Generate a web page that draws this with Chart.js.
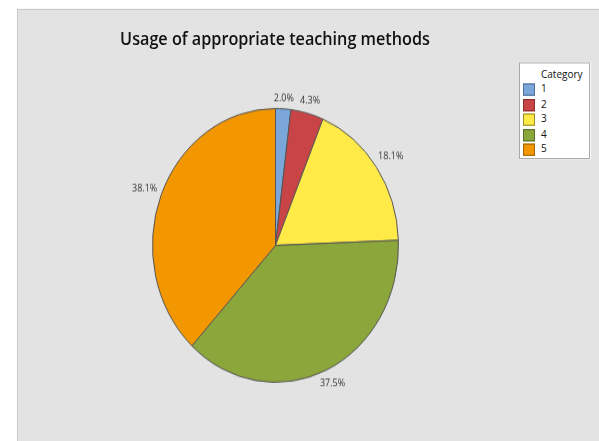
<!DOCTYPE html>
<html>
<head>
<meta charset="utf-8">
<script src="https://cdn.jsdelivr.net/npm/chart.js@4.4.0/dist/chart.umd.min.js"></script>
<style>
  html, body { margin: 0; padding: 0; background: #fff; }
  body { width: 599px; height: 441px; overflow: hidden; position: relative; }
  /* the reference is a bit stretched vertically, so the whole stage is too */
  #stage { position: absolute; left: 0; top: 0; width: 599px; height: 397px;
           transform: scale(1, 1.113); transform-origin: 0 0; }
  #panel { position: absolute; left: 17px; top: 8px; width: 581px; height: 388px;
           background: #e3e3e3; border-top: 1px solid #c8c8c8; border-left: 1px solid #c8c8c8; }
  #title { position: absolute; left: 75px; width: 400px; top: 24px; text-align: center;
           font-family: "Open Sans", "Noto Sans", sans-serif; font-size: 16.2px; font-weight: 600;
           line-height: 20px; color: #111; white-space: nowrap; }
  #legend { position: absolute; left: 519px; top: 56px; width: 71px; height: 87px;
            background: #fff; border: 1px solid #a9a9a9; box-sizing: border-box;
            font-family: "Open Sans", "Noto Sans", sans-serif; color: #111; }
  #legend .ttl { position: absolute; left: 21px; top: 2px; font-size: 10px; }
  #legend .row { position: absolute; left: 3px; height: 11px; }
  #legend .sw { position: absolute; left: 0; top: 0; width: 10px; height: 9px; border: 1px solid #555; }
  #legend .lb { position: absolute; left: 18px; top: -3px; font-size: 10px; line-height: 14px; }
</style>
</head>
<body>
<div id="stage">
  <div id="panel"><canvas id="pie" width="581" height="388"></canvas></div>
  <div id="title">Usage of appropriate teaching methods</div>
  <div id="legend"><div class="ttl">Category</div></div>
</div>
<script>
const categories = ['1', '2', '3', '4', '5'];
const percents = [2.0, 4.3, 18.1, 37.5, 38.1];
const sliceColors = ['#7ba6d9', '#c94447', '#ffea47', '#8ba63a', '#f39700'];
const edgeColors = ['#4f6f97', '#8b2c2e', '#9a8c2a', '#5b6d26', '#a26400'];

const total = percents.reduce((a, b) => a + b, 0);
const pctText = percents.map(v => (v / total * 100).toFixed(1) + '%');

// legend box
const legend = document.getElementById('legend');
categories.forEach((c, i) => {
    const row = document.createElement('div');
    row.className = 'row';
    row.style.top = (18 + i * 13.6) + 'px';
    row.innerHTML = '<div class="sw" style="background:' + sliceColors[i] + ';border-color:' + edgeColors[i] + '"></div><div class="lb">' + c + '</div>';
    legend.appendChild(row);
});

// percent labels just outside each slice
const pctLabels = {
    id: 'pctLabels',
    afterDatasetsDraw(chart) {
        const ctx = chart.ctx;
        const meta = chart.getDatasetMeta(0);
        ctx.save();
        ctx.font = '9px "Open Sans", "Noto Sans", sans-serif';
        ctx.fillStyle = '#333';
        ctx.textAlign = 'center';
        ctx.textBaseline = 'middle';
        meta.data.forEach((arc, i) => {
            const p = arc.getProps(['x', 'y', 'startAngle', 'endAngle', 'outerRadius'], true);
            const mid = (p.startAngle + p.endAngle) / 2;
            const dx = Math.cos(mid), dy = Math.sin(mid);
            const w = ctx.measureText(pctText[i]).width;
            const d = p.outerRadius + 4 + Math.abs(dx) * w / 2 + Math.abs(dy) * 5;
            ctx.fillText(pctText[i], p.x + dx * d, p.y + dy * d);
        });
        ctx.restore();
    }
};

new Chart(document.getElementById('pie'), {
    type: 'pie',
    data: {
        labels: categories,
        datasets: [{
            data: percents,
            backgroundColor: sliceColors,
            borderColor: '#555',
            borderWidth: 1
        }]
    },
    options: {
        responsive: false,
        animation: false,
        layout: { padding: { left: 134, right: 200, top: 88, bottom: 53 } },
        plugins: {
            legend: { display: false },
            tooltip: { enabled: false },
            title: { display: false }
        }
    },
    plugins: [pctLabels]
});
</script>
</body>
</html>
